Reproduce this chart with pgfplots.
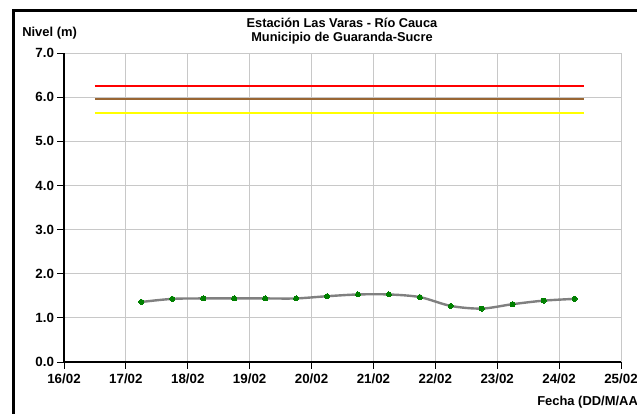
\documentclass[border=0pt]{standalone}
\usepackage{fontspec}
\setmainfont{Liberation Sans}[BoldFont={Liberation Sans Bold}]
\usepackage{pgfplots}
\pgfplotsset{compat=1.18}

\definecolor{gridgray}{RGB}{200,200,200}
\definecolor{linegray}{RGB}{128,128,128}
\definecolor{ptgreen}{RGB}{0,128,0}
\definecolor{brownline}{RGB}{153,102,51}
\definecolor{yellowline}{RGB}{255,255,0}

\begin{document}
\begin{tikzpicture}
% picture in 637x414 px, 1px = 0.75pt
\path[use as bounding box, clip] (0pt,0pt) rectangle (477.75pt,310.5pt);
\fill[white] (0pt,0pt) rectangle (477.75pt,310.5pt);

\begin{axis}[
    at={(48pt,39pt)}, anchor=south west,
    scale only axis,
    width=417.75pt, height=231.75pt,
    xmin=0, xmax=9, ymin=0, ymax=7,
    axis x line*=bottom, axis y line*=left,
    axis line style={black, line width=0.8pt},
    xtick={0,1,...,9},
    xticklabels={16/02,17/02,18/02,19/02,20/02,21/02,22/02,23/02,24/02,25/02},
    ytick={0,1,...,7},
    yticklabel style={/pgf/number format/fixed, /pgf/number format/precision=1, /pgf/number format/zerofill, xshift=1pt},
    /pgf/number format/assume math mode=true,
    tick label style={font=\fontsize{10}{11}\selectfont\bfseries},
    tick align=outside,
    major tick length=5pt,
    tick style={black, line width=0.6pt},
    grid=major,
    major grid style={gridgray, line width=0.7pt},
    clip=false,
]
\addplot[red, line width=1.5pt] coordinates {(0.5,6.25) (8.4,6.25)};
\addplot[brownline, line width=1.5pt] coordinates {(0.5,5.95) (8.4,5.95)};
\addplot[yellowline, line width=1.5pt] coordinates {(0.5,5.65) (8.4,5.65)};

\addplot[linegray, line width=1.8pt, smooth, tension=0.5,
    mark=*, mark size=1.9pt, mark options={ptgreen, fill=ptgreen, line width=0pt}]
coordinates {
    (1.25,1.36) (1.75,1.43) (2.25,1.44) (2.75,1.44) (3.25,1.44)
    (3.75,1.44) (4.25,1.49) (4.75,1.53) (5.25,1.53) (5.75,1.47)
    (6.25,1.27) (6.75,1.21) (7.25,1.31) (7.75,1.39) (8.25,1.43)
};
\end{axis}

\node[anchor=west, font=\fontsize{9.7}{10}\selectfont\bfseries, inner sep=0pt] at (16.5pt,285.75pt) {Nivel (m)};
\node[align=center, font=\fontsize{9.6}{10.5}\selectfont\bfseries, inner sep=0pt] at (256.5pt,287.25pt)
    {Estación Las Varas - Río Cauca\\Municipio de Guaranda-Sucre};
\node[anchor=west, font=\fontsize{9.7}{10}\selectfont\bfseries, inner sep=0pt] at (402.75pt,9pt) {Fecha (DD/M/AA)};

\draw[black, line width=2.25pt] (10.125pt,-20pt) -- (10.125pt,302.6pt) -- (500pt,302.6pt);
\end{tikzpicture}
\end{document}
